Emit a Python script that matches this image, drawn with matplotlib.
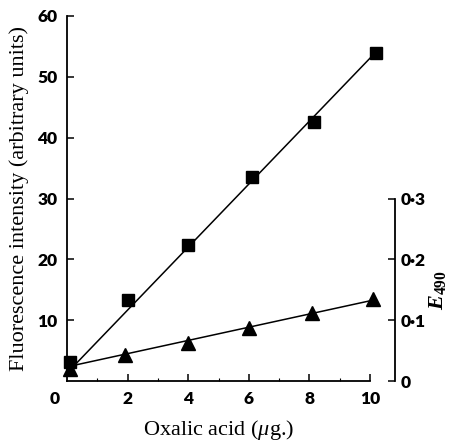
import numpy as np
import matplotlib
matplotlib.use("Agg")
import matplotlib.pyplot as plt
import matplotlib.transforms as mtrans

# fluorescence (squares, left axis)
sq_x = [0.1, 2.0, 4.0, 6.1, 8.15, 10.2]
sq_y = [3.1, 13.3, 22.4, 33.6, 42.6, 54.0]
# extinction at 490 nm (triangles, right axis)
tri_x = [0.1, 1.9, 4.0, 6.0, 8.1, 10.1]
tri_y = [0.020, 0.043, 0.063, 0.087, 0.112, 0.135]
# drawn calibration lines (end points)
fit_x = [0.25, 10.2]
sq_fit = [2.6, 54.1]
tri_fit = [0.026, 0.134]

xticks = [0, 2, 4, 6, 8, 10]
yticks = [10, 20, 30, 40, 50, 60]
rticks = [0, 0.1, 0.2, 0.3]
rlabels = ['0', '0·1', '0·2', '0·3']

plt.rcParams['mathtext.fontset'] = 'custom'
plt.rcParams['mathtext.rm'] = 'Liberation Serif'
plt.rcParams['mathtext.it'] = 'Liberation Serif:italic'
plt.rcParams['mathtext.bf'] = 'Liberation Serif:bold'
plt.rcParams['mathtext.bfit'] = 'Liberation Serif:bold:italic'

tickfont = dict(family='Lato', weight='heavy', size=12.5)
labfont = dict(family='Liberation Serif', size=16)

fig = plt.figure(figsize=(4.54, 4.41), dpi=100)
ax = fig.add_axes([67/454, 60/441, 303/454, 365/441])
ax.set_xlim(0, 10)
ax.set_ylim(0, 60)

ax.plot(fit_x, sq_fit, color='black', lw=1.1, zorder=2)
ax.plot(sq_x, sq_y, 's', color='black', ms=8, zorder=3, clip_on=False)

ax2 = ax.twinx()
ax2.set_ylim(0, 0.6)
ax2.plot(fit_x, tri_fit, color='black', lw=1.1, zorder=2)
ax2.plot(tri_x, tri_y, '^', color='black', ms=10, zorder=3, clip_on=False)

for s in ['top', 'right']:
    ax.spines[s].set_visible(False)
for s in ['top', 'left', 'bottom']:
    ax2.spines[s].set_visible(False)
ax.spines['left'].set_linewidth(1.3)
ax.spines['bottom'].set_linewidth(1.3)
ax2.spines['right'].set_linewidth(1.3)
ax2.spines['right'].set_position(('axes', (395 - 67) / 303))
ax2.spines['right'].set_bounds(0, 0.3)

ax.set_xticks(xticks)
ax.set_xticklabels([str(t) for t in xticks], **tickfont)
ax.set_xticks([1, 3, 5, 7, 9], minor=True)
ax.set_yticks(yticks)
ax.set_yticklabels([str(t) for t in yticks], **tickfont)
ax.tick_params(axis='x', which='major', direction='in', length=5, width=1.1, pad=7)
ax.tick_params(axis='x', which='minor', direction='in', length=2.5, width=0.8)
ax.tick_params(axis='y', which='major', direction='in', length=5, width=1.1, pad=7)

# shift the "0" label left of the corner
lab0 = ax.get_xticklabels()[0]
lab0.set_transform(lab0.get_transform() + mtrans.ScaledTranslation(-12/100, 0, fig.dpi_scale_trans))
ax.get_xticklines()[0].set_visible(False)

ax2.set_yticks(rticks)
ax2.set_yticklabels(rlabels, **tickfont)
ax2.tick_params(axis='y', direction='in', length=5, width=1.1, pad=4)

ax.set_xlabel('Oxalic acid ($\\mathit{\\mu}$g.)', fontdict=labfont, labelpad=8)
ax.set_ylabel('Fluorescence intensity (arbitrary units)', fontdict=labfont, labelpad=6)
fig.text(437/454, 1 - 290/441, '$\\mathbfit{E}_{\\mathbf{490}}$',
         rotation=90, ha='center', va='center', fontsize=16)

fig.savefig('out.png', dpi=100)
